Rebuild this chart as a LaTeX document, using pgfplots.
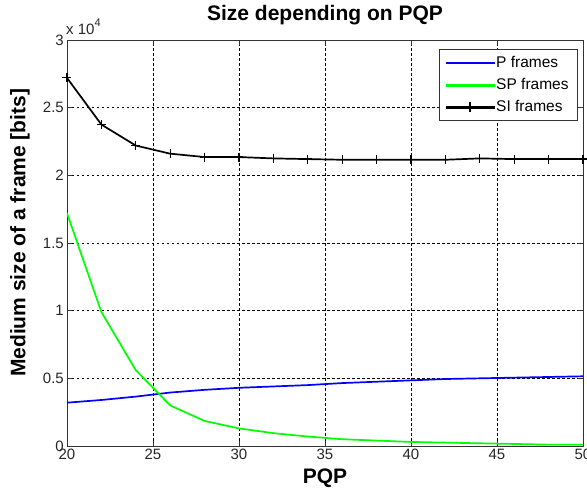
\documentclass[border=0pt]{standalone}
\usepackage{fontspec}
\setmainfont{Liberation Sans}
\usepackage{pgfplots}
\pgfplotsset{compat=1.18}
\definecolor{mblue}{rgb}{0,0,1}
\definecolor{mgreen}{rgb}{0,1,0}
\begin{document}
\begin{tikzpicture}
\begin{axis}[
  scale only axis,
  width=516pt, height=406pt,
  xmin=20, xmax=50, ymin=0, ymax=30000,
  xtick={20,25,...,50},
  ytick={0,5000,...,30000},
  yticklabels={0,0.5,1,1.5,2,2.5,3},
  scaled y ticks=false,
  /pgf/number format/assume math mode=true,
  ticklabel style={font=\fontsize{15}{15}\selectfont, text=black!85},
  yticklabel style={inner sep=1pt, xshift=-2pt},
  xticklabel style={inner sep=1pt, yshift=-2pt},
  tick align=inside,
  major tick length=5pt,
  tick style={black!80, line width=0.6pt},
  axis line style={black!80, line width=0.8pt},
  grid=major,
  grid style={black, line width=0.5pt, dash pattern=on 2.5pt off 2.5pt},
  title={Size depending on PQP},
  title style={font=\bfseries\fontsize{21}{21}\selectfont, at={(rel axis cs:0.5,1)}, anchor=base, yshift=13pt},
  xlabel={PQP},
  xlabel style={font=\bfseries\fontsize{21}{21}\selectfont, at={(rel axis cs:0.5,0)}, anchor=base, yshift=-38pt},
  ylabel={Medium size of a frame [bits]},
  ylabel style={font=\bfseries\fontsize{21}{21}\selectfont, at={([xshift=-47pt]rel axis cs:0,0.525)}, anchor=center},
  legend style={at={(rel axis cs:1,1)}, anchor=north east, xshift=-6pt, yshift=-9pt,
    draw=black!80, font=\fontsize{15.5}{15.5}\selectfont,
    nodes={inner sep=2.2pt}, inner xsep=6pt, inner ysep=5pt, row sep=5pt},
  legend cell align=left,
  after end axis/.code={\node[anchor=south west, inner sep=0pt, font=\fontsize{15}{15}\selectfont, text=black!85] at ([yshift=5pt,xshift=-1pt]rel axis cs:0,1) {x 10\raisebox{1.0ex}{\fontsize{11}{11}\selectfont 4}};},
]
\addlegendimage{legend image code/.code={\fill[mblue] (0pt,-0.9pt) rectangle (48pt,0.9pt);}}
\addlegendentry{P frames}
\addlegendimage{legend image code/.code={\fill[mgreen] (0pt,-0.9pt) rectangle (48pt,0.9pt);}}
\addlegendentry{SP frames}
\addlegendimage{legend image code/.code={\fill[black] (0pt,-0.9pt) rectangle (48pt,0.9pt); \fill[black] (23.4pt,-4.5pt) rectangle (24.6pt,4.5pt); \fill[black] (19.5pt,-0.6pt) rectangle (28.5pt,0.6pt);}}
\addlegendentry{SI frames}
\addplot[forget plot, draw=mblue, line width=1.7pt] coordinates {
(20,3200) (22,3400) (24,3650) (26,3950) (28,4150) (30,4300) (32,4400) (34,4500)
(36,4650) (38,4750) (40,4850) (42,4950) (44,5000) (46,5050) (48,5100) (50,5150)};
\addplot[forget plot, draw=mgreen, line width=1.7pt] coordinates {
(20,17200) (22,9900) (24,5600) (26,3000) (28,1850) (30,1300) (32,950) (34,700)
(36,500) (38,400) (40,300) (42,250) (44,200) (46,150) (48,100) (50,100)};
\addplot[forget plot, draw=black, line width=1.7pt, mark=+, mark size=4.5pt, mark options={line width=1.2pt}] coordinates {
(20,27200) (22,23750) (24,22200) (26,21600) (28,21350) (30,21350) (32,21250) (34,21200)
(36,21150) (38,21150) (40,21150) (42,21150) (44,21250) (46,21200) (48,21200) (50,21200)};
\end{axis}
\pgfresetboundingbox
\path[use as bounding box] (-67pt,-46pt) rectangle (520pt,446pt);
\end{tikzpicture}
\end{document}
